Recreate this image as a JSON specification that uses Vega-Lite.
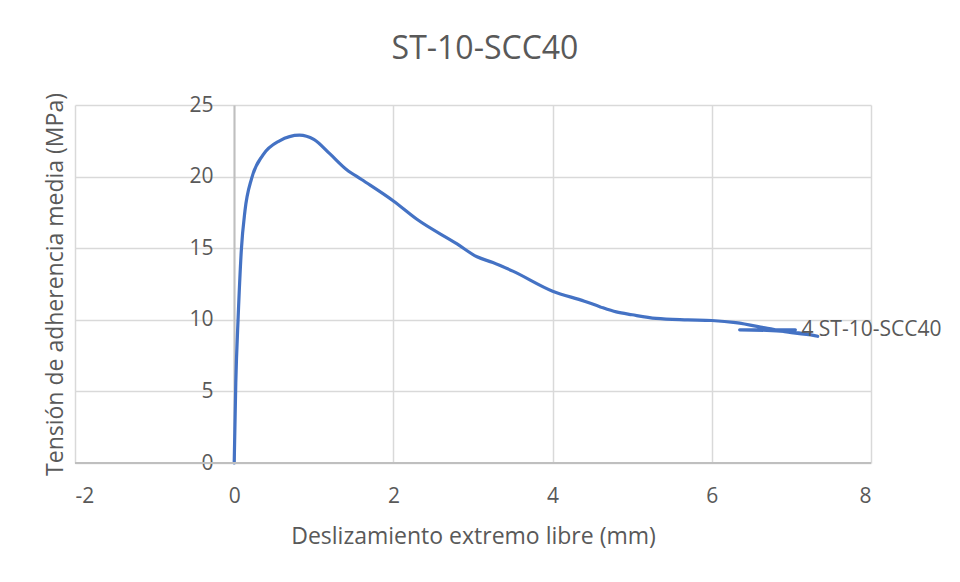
{
  "$schema": "https://vega.github.io/schema/vega-lite/v6.json",
  "autosize": {"type": "none"},
  "width": 796,
  "height": 358,
  "padding": {"left": 75, "top": 105, "right": 89, "bottom": 119},
  "background": "white",
  "config": {
    "font": "Open Sans",
    "view": {"stroke": null},
    "axis": {"labelFont": "Open Sans", "titleFont": "Open Sans", "labelColor": "#595959", "titleColor": "#595959", "titleFontWeight": "normal", "gridColor": "#D9D9D9", "gridWidth": 1.5, "ticks": false}
  },
  "title": {"text": "ST-10-SCC40", "font": "Open Sans", "fontSize": 32, "fontWeight": "normal", "color": "#595959", "anchor": "middle", "offset": 27, "dx": 12},
  "data": {"values": [
    {"i": 1, "s": 0.0, "t": 0.0},
    {"i": 2, "s": 0.02, "t": 5.6},
    {"i": 3, "s": 0.05, "t": 10.2},
    {"i": 4, "s": 0.09, "t": 14.9},
    {"i": 5, "s": 0.135, "t": 17.6},
    {"i": 6, "s": 0.22, "t": 19.9},
    {"i": 7, "s": 0.36, "t": 21.5},
    {"i": 8, "s": 0.57, "t": 22.5},
    {"i": 9, "s": 0.82, "t": 22.9},
    {"i": 10, "s": 1.0, "t": 22.6},
    {"i": 11, "s": 1.2, "t": 21.6},
    {"i": 12, "s": 1.41, "t": 20.5},
    {"i": 13, "s": 1.6, "t": 19.8},
    {"i": 14, "s": 2.0, "t": 18.3},
    {"i": 15, "s": 2.3, "t": 17.0},
    {"i": 16, "s": 2.8, "t": 15.3},
    {"i": 17, "s": 3.05, "t": 14.4},
    {"i": 18, "s": 3.25, "t": 14.0},
    {"i": 19, "s": 3.5, "t": 13.4},
    {"i": 20, "s": 4.0, "t": 12.0},
    {"i": 21, "s": 4.4, "t": 11.3},
    {"i": 22, "s": 4.6, "t": 10.9},
    {"i": 23, "s": 4.8, "t": 10.55},
    {"i": 24, "s": 5.0, "t": 10.35},
    {"i": 25, "s": 5.3, "t": 10.1},
    {"i": 26, "s": 5.7, "t": 10.0},
    {"i": 27, "s": 6.0, "t": 9.95},
    {"i": 28, "s": 6.3, "t": 9.8},
    {"i": 29, "s": 6.7, "t": 9.4},
    {"i": 30, "s": 7.0, "t": 9.1},
    {"i": 31, "s": 7.33, "t": 8.85},
    {"i": 32, "s": 7.0, "t": 9.15},
    {"i": 33, "s": 6.35, "t": 9.3},
    {"i": 34, "s": 7.05, "t": 9.3, "label": "4 ST-10-SCC40"}
  ]},
  "layer": [
    {
      "mark": {"type": "line", "color": "#4472C4", "strokeWidth": 3.2, "interpolate": "monotone", "strokeCap": "round", "strokeJoin": "round"},
      "encoding": {
        "x": {"field": "s", "type": "quantitative", "scale": {"domain": [-2, 8], "nice": false, "zero": false},
          "axis": {"values": [-2, 0, 2, 4, 6, 8], "labelExpr": "'' + datum.value", "title": "Deslizamiento extremo libre (mm)", "titleFontSize": 23, "labelFontSize": 21, "labelPadding": 22, "titlePadding": 19, "domain": false, "grid": true}},
        "y": {"field": "t", "type": "quantitative", "scale": {"domain": [0, 25], "nice": false},
          "axis": {"values": [0, 5, 10, 15, 20, 25], "title": "Tensión de adherencia media (MPa)", "titleFontSize": 23, "labelFontSize": 21, "labelPadding": 21, "offset": -159, "titleX": -167, "domainColor": "#BFBFBF", "domainWidth": 2, "grid": true}},
        "order": {"field": "i", "type": "quantitative"}
      }
    },
    {
      "mark": {"type": "rule", "color": "#BFBFBF", "strokeWidth": 2},
      "encoding": {"y": {"datum": 0, "type": "quantitative"}}
    },
    {
      "transform": [{"filter": "datum.label != null"}],
      "mark": {"type": "text", "align": "left", "baseline": "middle", "dx": 6, "fontSize": 21, "color": "#595959", "font": "Open Sans"},
      "encoding": {
        "x": {"field": "s", "type": "quantitative"},
        "y": {"field": "t", "type": "quantitative"},
        "text": {"field": "label"}
      }
    }
  ]
}
